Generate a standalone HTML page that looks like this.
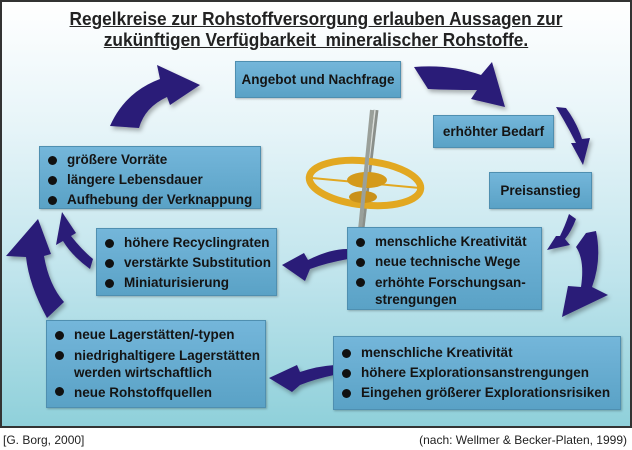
<!DOCTYPE html>
<html><head><meta charset="utf-8"><style>
body{margin:0;width:632px;height:450px;background:#fff;position:relative;overflow:hidden;font-family:"Liberation Sans",Arial,sans-serif}
#frame{position:absolute;left:0;top:0;width:628px;height:424px;border:2px solid #333;background:linear-gradient(#ffffff 0%,#e6f4f8 30%,#bfe4ec 65%,#8fd0da 100%)}
.t{position:absolute;left:0;width:632px;text-align:center;font-weight:bold;font-size:18px;color:#222;text-decoration:underline;transform:scaleX(0.96);transform-origin:316px 0}
.b{position:absolute;background:linear-gradient(#74b6da,#5aa2c6);border:1px solid #4f8fb0;box-shadow:1px 1px 2px rgba(0,0,0,.25);font-weight:bold;font-size:13.5px;color:#141414;box-sizing:border-box}
.b ul{margin:0;padding:0;list-style:none}
.b li{position:relative;padding-left:27px;line-height:20px}
.b li:before{content:"";position:absolute;left:8px;top:6px;width:9px;height:9px;border-radius:50%;background:#111}
.c{display:flex;align-items:center;justify-content:center}
.f{position:absolute;top:433px;font-size:12px;color:#222}
</style></head><body>
<div id="frame"></div>
<div class="t" style="top:9px">Regelkreise zur Rohstoffversorgung erlauben Aussagen zur</div>
<div class="t" style="top:30px">zukünftigen Verfügbarkeit&nbsp; mineralischer Rohstoffe.</div>

<svg width="632" height="450" style="position:absolute;left:0;top:0">
<defs><filter id="s"><feDropShadow dx="2" dy="3" stdDeviation="2" flood-opacity=".3"/></filter></defs>
<g>
<line x1="376" y1="110" x2="358" y2="262" stroke="#8a8f8a" stroke-width="5"/>
<line x1="375" y1="110" x2="357" y2="262" stroke="#d8dcd8" stroke-width="1.5"/>
<ellipse cx="365" cy="183" rx="56" ry="22" transform="rotate(6 365 183)" fill="none" stroke="#e2a821" stroke-width="7"/>
<line x1="312" y1="178" x2="420" y2="188" stroke="#e2a821" stroke-width="2"/>
<ellipse cx="367" cy="180" rx="20" ry="8" fill="#d49a1a"/>
<ellipse cx="363" cy="197" rx="14" ry="6" fill="#c9911a"/>
<line x1="372" y1="110" x2="359" y2="240" stroke="#9aa09a" stroke-width="4"/>
</g>
<g fill="#2b1a78" filter="url(#s)">
<path d="M110,126 Q125,92 160,79 L157,65 L200,85 L170,105 L167,97 Q145,107 139,128 Z"/>
<path d="M414,67 Q450,64 481,75 L492,62 L505,107 L471,99 L477,90 Q450,90 428,89 Z"/>
<path d="M556,107 L566,108 Q577,123 582,139 L590,138 L583,165 L571,143 L576,143 Q567,125 556,107 Z"/>
<path d="M569,214 L576,219 Q571,232 565,239 L570,245 L547,250 L556,236 L560,236 Q565,226 569,214 Z"/>
<path d="M586,233 L596,231 Q602,260 592,287 L608,295 L562,317 L568,286 L581,287 Q585,260 576,247 Z"/>
<path d="M347,249 L348,259 Q326,263 310,269 L305,281 L282,265 L304,253 L308,260 Q330,249 347,249 Z"/>
<path d="M335,365 L334,375 Q315,379 300,385 L292,392 L269,378 L297,365 L300,372 Q318,366 335,365 Z"/>
<path d="M62,212 L76,233 L71,236 Q82,250 93,259 L90,269 Q72,256 63,241 L56,245 Z"/>
<path d="M6,256 L38,219 L51,254 L44,256 Q49,285 64,302 L47,318 Q29,285 26,257 Z"/>
</g>
</svg>

<div class="b c" style="left:235px;top:61px;width:166px;height:37px">Angebot und Nachfrage</div>
<div class="b c" style="left:433px;top:115px;width:121px;height:33px">erhöhter Bedarf</div>
<div class="b c" style="left:489px;top:172px;width:103px;height:37px">Preisanstieg</div>
<div class="b" style="left:39px;top:146px;width:222px;height:63px;padding-top:3px"><ul><li>größere Vorräte</li><li>längere Lebensdauer</li><li>Aufhebung der Verknappung</li></ul></div>
<div class="b" style="left:96px;top:228px;width:181px;height:68px;padding-top:4px"><ul><li>höhere Recyclingraten</li><li>verstärkte Substitution</li><li>Miniaturisierung</li></ul></div>
<div class="b" style="left:347px;top:227px;width:195px;height:83px;padding-top:4px"><ul><li>menschliche Kreativität</li><li>neue technische Wege</li><li style="line-height:17px;padding-top:2px">erhöhte Forschungsan-<br>strengungen</li></ul></div>
<div class="b" style="left:46px;top:320px;width:220px;height:88px;padding-top:4px"><ul><li>neue Lagerstätten/-typen</li><li style="line-height:17px;padding-top:2px">niedrighaltigere Lagerstätten<br>werden wirtschaftlich</li><li style="padding-top:2px">neue Rohstoffquellen</li></ul></div>
<div class="b" style="left:333px;top:336px;width:288px;height:74px;padding-top:6px"><ul><li>menschliche Kreativität</li><li>höhere Explorationsanstrengungen</li><li>Eingehen größerer Explorationsrisiken</li></ul></div>

<div class="f" style="left:3px">[G. Borg, 2000]</div>
<div class="f" style="right:5px">(nach: Wellmer &amp; Becker-Platen, 1999)</div>
</body></html>
